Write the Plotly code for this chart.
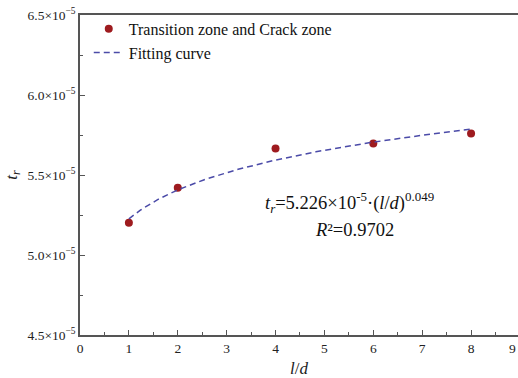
import numpy as np
import plotly.graph_objects as go

# Measured points: transition zone and crack zone
ld_ratio = [1, 2, 4, 6, 8]
t_r = [5.201e-5, 5.420e-5, 5.666e-5, 5.697e-5, 5.759e-5]

# Power-law fit t_r = a * (l/d)^b
fit_a = 5.226e-5
fit_b = 0.049
r_squared = 0.9702

y_tick_vals = [4.5e-5, 5.0e-5, 5.5e-5, 6.0e-5, 6.5e-5]
y_tick_text = ["4.5×10<sup>−5</sup>", "5.0×10<sup>−5</sup>", "5.5×10<sup>−5</sup>",
               "6.0×10<sup>−5</sup>", "6.5×10<sup>−5</sup>"]
x_tick_vals = [0, 1, 2, 3, 4, 5, 6, 7, 8]

fit_x = np.linspace(1, 8, 120)
fit_y = fit_a * fit_x ** fit_b

FONT = "Liberation Serif"
AXIS_COLOR = "#555555"

fig = go.Figure()
fig.add_trace(go.Scatter(
    x=ld_ratio, y=t_r, mode="markers", name="Transition zone and Crack zone",
    marker=dict(color="#9e1b1f", size=8),
))
fig.add_trace(go.Scatter(
    x=fit_x, y=fit_y, mode="lines", name="Fitting curve",
    line=dict(color="#4b4ba8", width=1.5, dash="6px,4px"),
))

fig.add_annotation(
    x=5.52, y=5.33e-5, xref="x", yref="y", showarrow=False,
    text="<i>t<sub>r</sub></i>=5.226×10<sup>-5</sup>·(<i>l</i>/<i>d</i>)<sup>0.049</sup>",
    font=dict(family=FONT, size=18.5, color="#111111"),
)
fig.add_annotation(
    x=5.62, y=5.155e-5, xref="x", yref="y", showarrow=False,
    text="<i>R</i>²=0.9702",
    font=dict(family=FONT, size=18.5, color="#111111"),
)
# tick label for x = 9, kept against the right edge of the page
fig.add_annotation(
    x=1.0, y=0, xref="paper", yref="paper", showarrow=False,
    xanchor="right", yanchor="top", xshift=0, yshift=-4,
    text="9", font=dict(family=FONT, size=13.5, color="#222222"),
)

fig.update_layout(
    width=518, height=378,
    margin=dict(l=80, r=0, t=15, b=43),
    paper_bgcolor="white", plot_bgcolor="white",
    font=dict(family=FONT, size=13.5, color="#222222"),
    showlegend=True,
    legend=dict(
        x=0.02, y=1.01, xanchor="left", yanchor="top",
        bgcolor="rgba(0,0,0,0)", font=dict(family=FONT, size=16, color="#111111"),
        tracegroupgap=0, itemwidth=30,
    ),
)
fig.update_xaxes(
    range=[0, 8.96], tickvals=x_tick_vals, ticks="inside", ticklen=5,
    tickcolor=AXIS_COLOR, showline=True, linecolor=AXIS_COLOR, linewidth=1.5,
    mirror=True, showgrid=False, zeroline=False,
    minor=dict(dtick=0.5, ticks="inside", ticklen=3, tickcolor=AXIS_COLOR),
    title=dict(text="<i>l</i>/<i>d</i>", font=dict(family=FONT, size=17), standoff=8),
)
fig.update_yaxes(
    range=[4.5e-5, 6.5e-5], tickvals=y_tick_vals, ticktext=y_tick_text,
    ticks="inside", ticklen=5, tickcolor=AXIS_COLOR,
    showline=True, linecolor=AXIS_COLOR, linewidth=1.5, showgrid=False, zeroline=False,
    minor=dict(tickvals=[4.75e-5, 5.25e-5, 5.75e-5, 6.25e-5], ticks="inside",
               ticklen=3, tickcolor=AXIS_COLOR),
    title=dict(text="<i>t<sub>r</sub></i>", font=dict(family=FONT, size=17), standoff=6),
)

fig.write_html("out.html")
